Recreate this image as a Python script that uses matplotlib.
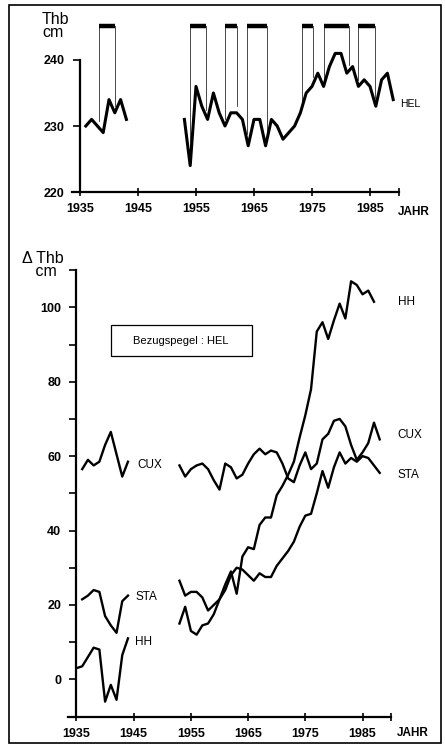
import matplotlib
matplotlib.use("Agg")
import matplotlib.pyplot as plt
import numpy as np
from matplotlib.patches import Rectangle

plt.rcParams['font.family'] = ['Liberation Sans', 'DejaVu Sans']

# --- data ---
hel_years_a = list(range(1936, 1944))
hel_a = [230, 231, 230, 229, 234, 232, 234, 231]
hel_years_b = list(range(1953, 1990))
hel_b = [231, 224, 236, 233, 231, 235, 232, 230, 232, 232,
         231, 227, 231, 231, 227, 231, 230, 228, 229, 230,
         232, 235, 236, 238, 236, 239, 241, 241, 238, 239,
         236, 237, 236, 233, 237, 238, 234]
# marked periods above the HEL curve
period_start = [1938.3, 1954.0, 1960.0, 1963.8, 1973.2, 1977.0, 1983.0]
period_end = [1941.0, 1956.8, 1962.0, 1967.2, 1975.2, 1981.3, 1985.9]

years_a = list(range(1936, 1945))
cux_a = [56.5, 59, 57.5, 58.5, 63, 66.5, 60.5, 54.5, 58.5]
sta_a = [21.5, 22.5, 24, 23.5, 17, 14.5, 12.5, 21, 22.5]
hh_years_a = list(range(1935, 1945))
hh_a = [3, 3.5, 6, 8.5, 8, -6, -1.5, -5.5, 6.5, 11]

years_b = list(range(1953, 1989))
cux_b = [57.5, 54.5, 56.5, 57.5, 58, 56.5, 53.5, 51, 58, 57,
         54, 55, 58, 60.5, 62, 60.5, 61.5, 61, 58, 54,
         53, 57.5, 61, 56.5, 58, 64.5, 66, 69.5, 70, 68,
         63, 59, 61, 63.5, 69, 64.5]
sta_b = [26.5, 22.5, 23.5, 23.5, 22, 18.5, 20, 21.5, 24, 28,
         30, 29.5, 28, 26.5, 28.5, 27.5, 27.5, 30.5, 32.5, 34.5,
         37, 41, 44, 44.5, 50, 56, 51.5, 57, 61, 58,
         59.5, 58.5, 60, 59.5, 57.5, 55.5]
hh_years_b = list(range(1953, 1988))
hh_b = [15, 19.5, 13, 12, 14.5, 15, 17.5, 21.5, 25.5, 29,
        23, 33, 35.5, 35, 41.5, 43.5, 43.5, 49.5, 52, 55,
        58.5, 65, 71, 78, 93.5, 96, 91.5, 96.5, 101, 97,
        107, 106, 103.5, 104.5, 101.5]

W, H = 445, 746
fig = plt.figure(figsize=(W / 100, H / 100), dpi=100)


def axes_px(left, top, right, bottom):
    return fig.add_axes([left / W, 1 - bottom / H, (right - left) / W, (bottom - top) / H])


def ftext(px, py, s, **kw):
    kw.setdefault("fontsize", 8.5)
    kw.setdefault("va", "center")
    fig.text(px / W, 1 - py / H, s, **kw)


def style_axis(ax, ybounds):
    for side in ("top", "right"):
        ax.spines[side].set_visible(False)
    ax.spines["left"].set_position(("data", 1935))
    ax.spines["left"].set_bounds(*ybounds)
    ax.spines["bottom"].set_position(("data", ybounds[0]))
    ax.spines["bottom"].set_bounds(1933.6, 1990)
    ax.spines["left"].set_linewidth(1.6)
    ax.spines["bottom"].set_linewidth(1.6)
    ax.set_xticks([1935, 1945, 1955, 1965, 1975, 1985, 1990])
    ax.set_xticklabels(["1935", "1945", "1955", "1965", "1975", "1985", ""])
    ax.tick_params(axis="x", direction="inout", length=6, width=1.2, pad=5,
                   labelsize=9, colors="black")
    ax.tick_params(axis="y", direction="out", length=5, width=1.2, pad=6,
                   labelsize=9)
    for lab in ax.get_xticklabels() + ax.get_yticklabels():
        lab.set_fontweight("bold")
    ax.patch.set_alpha(0)


# --- top panel: HEL ---
ax1 = axes_px(71.3, 20.4, 401.9, 198.6)
ax1.set_xlim(1933.5, 1990.5)
ax1.set_ylim(219, 246)
style_axis(ax1, (220, 240))
ax1.set_yticks([220, 230, 240])
ax1.plot(hel_years_a, hel_a, color="black", lw=2.2)
ax1.plot(hel_years_b, hel_b, color="black", lw=2.2)

all_years = hel_years_a + hel_years_b
all_hel = hel_a + hel_b
bar_y = 245.2
for s, e in zip(period_start, period_end):
    ax1.plot([s, e], [bar_y, bar_y], color="black", lw=3.2, solid_capstyle="butt")
    for x in (s, e):
        y0 = np.interp(x, all_years, all_hel) + 1.0
        ax1.plot([x, x], [y0, bar_y], color="black", lw=0.5)

ftext(42, 26, "Thb\ncm", fontsize=11.5, linespacing=0.8)
ftext(400, 104, "HEL", fontsize=7.5)
ftext(398, 212, "JAHR", fontsize=8.5, fontweight="bold")

# --- bottom panel: differences to HEL ---
ax2 = axes_px(67.9, 262.7, 394.0, 716.5)
ax2.set_xlim(1933.5, 1990.5)
ax2.set_ylim(-10, 112)
style_axis(ax2, (-10, 110))
ax2.set_yticks([0, 20, 40, 60, 80, 100])
ax2.set_yticks([10, 30, 50, 70, 90, 110], minor=True)
ax2.tick_params(axis="y", which="minor", direction="out", length=5, width=1.2)

kw = dict(color="black", lw=1.7)
ax2.plot(years_a, cux_a, **kw)
ax2.plot(years_a, sta_a, **kw)
ax2.plot(hh_years_a, hh_a, **kw)
ax2.plot(years_b, cux_b, **kw)
ax2.plot(years_b, sta_b, **kw)
ax2.plot(hh_years_b, hh_b, **kw)

ftext(22, 265, "\u0394 Thb\n   cm", fontsize=11.5, linespacing=0.8)
ftext(398, 302, "HH", fontsize=8.5)
ftext(397, 435, "CUX", fontsize=8.5)
ftext(397, 475, "STA", fontsize=8.5)
ftext(137, 465, "CUX", fontsize=8.5)
ftext(135, 597, "STA", fontsize=8.5)
ftext(135, 642, "HH", fontsize=8.5)
ftext(397, 733, "JAHR", fontsize=8.5, fontweight="bold")

fig.patches.append(Rectangle((110.7 / W, 1 - 356 / H), 141 / W, 31 / H,
                             transform=fig.transFigure, fill=False,
                             ec="black", lw=0.9))
ftext(181, 340.5, "Bezugspegel : HEL", fontsize=8, ha="center")

# outer frame
fig.patches.append(Rectangle((9 / W, 1 - 743 / H), 432 / W, 738 / H,
                             transform=fig.transFigure, fill=False,
                             ec="black", lw=1.2))

fig.savefig("out.png", dpi=100)
